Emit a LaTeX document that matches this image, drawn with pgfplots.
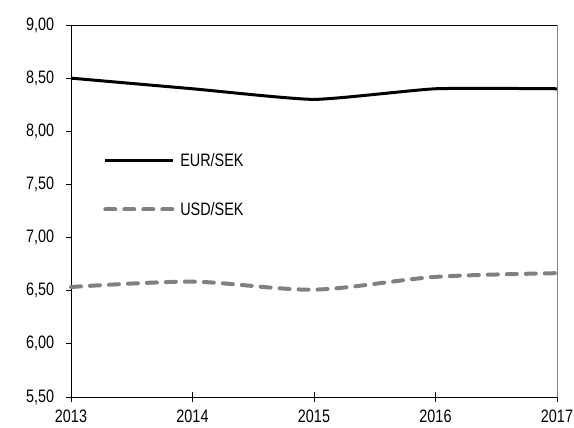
\documentclass[border=0pt]{standalone}
\usepackage{fontspec}
\setmainfont{Liberation Sans}[FakeStretch=0.8]
\usepackage{pgfplots}
\pgfplotsset{compat=1.18}
\definecolor{usdgrey}{RGB}{128,128,128}
\begin{document}
\begin{tikzpicture}
\path[use as bounding box] (-71pt,-31pt) rectangle (503pt,397pt);
\begin{axis}[
  scale only axis,
  width=486pt, height=372pt,
  xmin=2013, xmax=2017, ymin=5.5, ymax=9,
  xtick={2013,2014,2015,2016,2017},
  ytick={5.5,6,6.5,7,7.5,8,8.5,9},
  tick align=outside,
  xtick style={black, line width=0.8pt, /pgfplots/major tick length=10pt, yshift=5pt},
  ytick style={black, line width=0.8pt, /pgfplots/major tick length=5pt},
  axis line style={line width=0.9pt},
  xtick pos=bottom, ytick pos=left,
  tick label style={font=\fontsize{18}{20}\selectfont},
  /pgf/number format/assume math mode=true,
  xticklabel style={/pgf/number format/1000 sep={}, yshift=-5pt},
  yticklabel style={xshift=-9pt, /pgf/number format/.cd, fixed, fixed zerofill, precision=2, use comma},
  clip=false,
  legend style={draw=none, fill=none, at={(0.066,0.66)}, anchor=north west,
    font=\fontsize{18}{20}\selectfont, row sep=30pt, inner sep=0pt},
  legend cell align=left,
  legend image code/.code={\draw[#1] (0pt,0pt) -- (68pt,0pt);},
]
\addplot[black, line width=3pt, smooth, tension=0.3] coordinates {
  (2013,8.50) (2014,8.40) (2015,8.30) (2016,8.40) (2017,8.40)};
\addlegendentry{\hspace*{3pt}EUR/SEK}
\addplot[usdgrey, line width=4pt, line cap=round, dash pattern=on 10pt off 9pt, smooth, tension=0.5] coordinates {
  (2013,6.535) (2014,6.585) (2015,6.51) (2016,6.63) (2017,6.665)};
\addlegendentry{\hspace*{3pt}USD/SEK}
\draw[usdgrey, line width=1pt] (rel axis cs:1,0) -- (rel axis cs:1,1);
\end{axis}
\end{tikzpicture}
\end{document}
